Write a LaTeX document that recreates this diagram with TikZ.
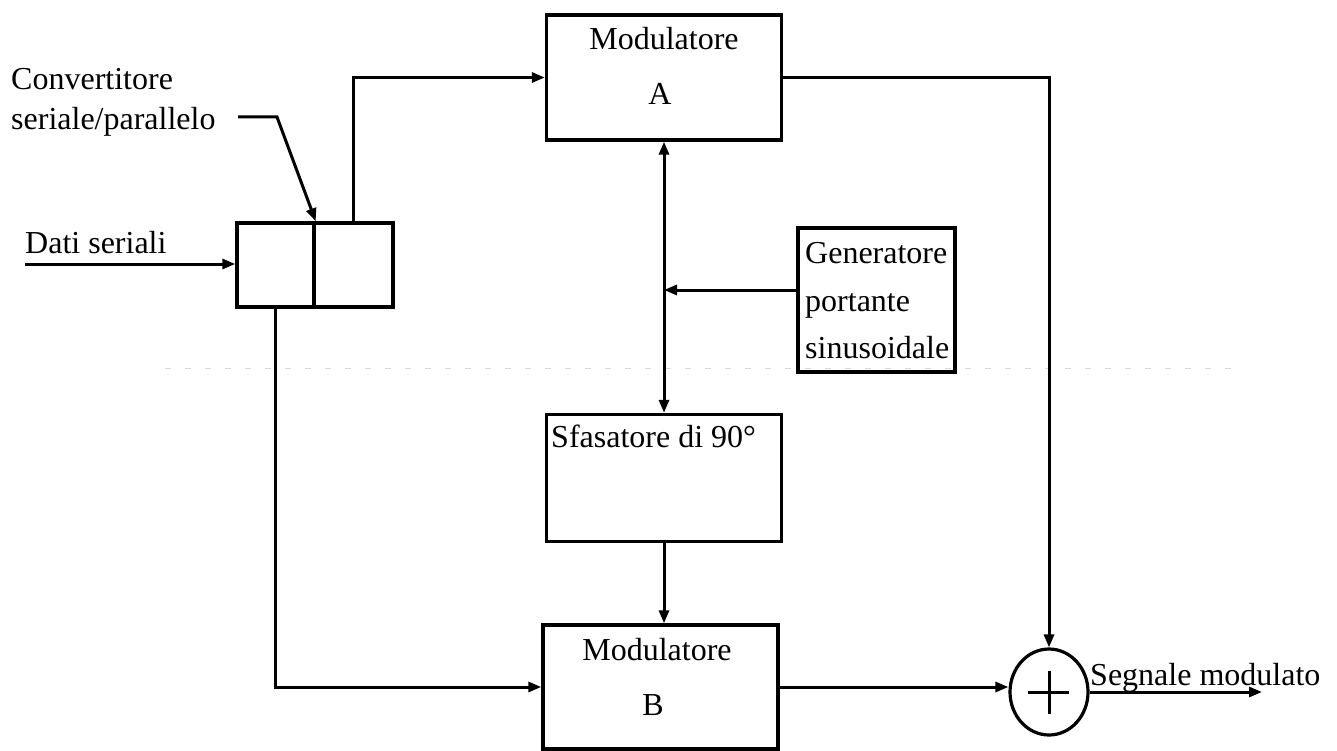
\documentclass[tikz,border=0pt]{standalone}
\usepackage{fontspec}
\setmainfont{Liberation Serif}
\usetikzlibrary{arrows.meta,shapes.geometric}
\begin{document}
\begin{tikzpicture}[x=1pt,y=-1pt,
  blk/.style={draw,line width=3.4pt,rectangle,inner sep=0pt},
  con/.style={line width=3pt},
  arr/.style={con,-{Triangle[length=13pt,width=10pt]}},
  arrb/.style={con,{Triangle[length=13pt,width=10pt]}-{Triangle[length=13pt,width=10pt]}},
  lbl/.style={inner sep=0pt,font=\fontsize{32}{38}\selectfont},
  artifact/.style={gray!30,line width=1pt,dash pattern=on 6pt off 14pt}]
\useasboundingbox (0,0) rectangle (1337,751);
% scan artifact line
\draw[artifact] (165,368) -- (1235,368);
% blocks
\node[blk,minimum width=77pt,minimum height=84pt] (convL) at (275.5,265) {};
\node[blk,minimum width=79pt,minimum height=84pt] (convR) at (353.5,265) {};
\node[blk,minimum width=235pt,minimum height=125pt] (modA) at (664,77.5) {};
\node[blk,minimum width=157pt,minimum height=144pt] (gen) at (876.5,300) {};
\node[blk,minimum width=235pt,minimum height=127pt] (sfas) at (664,478) {};
\node[blk,minimum width=235pt,minimum height=124pt] (modB) at (660.5,687) {};
\node[draw,line width=3.2pt,ellipse,inner sep=0pt,minimum width=78pt,minimum height=86pt] (sum) at (1049,692) {};
\draw[line width=3pt] (1028,692) -- (1069,692) (1049,671) -- (1049,714);
% texts
\node[lbl,anchor=base west] (t1) at (11,90) {Convertitore};
\node[lbl,anchor=base west] (t2) at (11,130) {seriale/parallelo};
\node[lbl,anchor=base west] (t3) at (25,253) {Dati seriali};
\node[lbl,anchor=base] (ta1) at (664,50) {Modulatore};
\node[lbl,anchor=base] (ta2) at (660,105) {A};
\node[lbl,anchor=base west] (tg1) at (805,263) {Generatore};
\node[lbl,anchor=base west] (tg2) at (805,311) {portante};
\node[lbl,anchor=base west] (tg3) at (805,358) {sinusoidale};
\node[lbl,anchor=base west] (ts) at (551,447) {Sfasatore di 90°};
\node[lbl,anchor=base] (tb1) at (657,660) {Modulatore};
\node[lbl,anchor=base] (tb2) at (653,715) {B};
\node[lbl,anchor=base west] (to) at (1090,685) {Segnale modulato};
% connectors
\coordinate (din) at (25,264);
\coordinate (lead) at (238,117);
\coordinate (out) at (1262,692);
\draw[arr] (din) -- (din -| convL.west);
\draw[arr] (lead) -- ++(39,0) -- (convL.north east);
\draw[arr] (convR.north) |- (modA.west);
\draw[arr] (convL.south) |- (modB.west);
\draw[arr] (modA.east) -| (sum.north);
\draw[arrb] (modA.south) -- (sfas.north);
\draw[arr] ([yshift=10pt]gen.west) coordinate (g1) -- (g1 -| modA.south);
\draw[arr] (sfas.south) -- (sfas.south |- modB.north);
\draw[arr] (modB.east) -- (modB.east -| sum.west);
\draw[arr] (sum.east) -- (out);
\end{tikzpicture}
\end{document}
